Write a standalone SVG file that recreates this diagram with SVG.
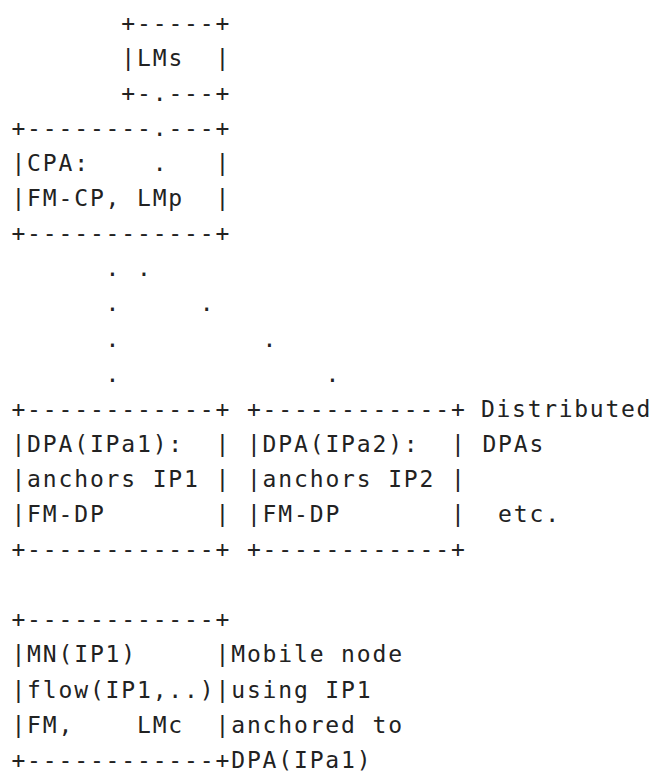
<svg xmlns="http://www.w3.org/2000/svg" width="653" height="776" viewBox="0 0 653 776">
<style>
text{font-family:"DejaVu Sans Mono","Liberation Mono",monospace;font-size:23px;letter-spacing:1.85px;fill:#222;white-space:pre}
</style>
<rect width="653" height="776" fill="#fff"/>
<g id="lms">
<text x="121.3" y="30.6" xml:space="preserve">+-----+</text>
<text x="121.3" y="65.7" xml:space="preserve">|LMs  |</text>
<text x="121.3" y="100.8" xml:space="preserve">+-</text>
<text x="168.4" y="100.8" xml:space="preserve">---+</text>
</g>
<g id="cpa">
<text x="11.4" y="135.9" xml:space="preserve">+--------</text>
<text x="168.4" y="135.9" xml:space="preserve">---+</text>
<text x="11.4" y="171.0" xml:space="preserve">|CPA:</text>
<text x="215.5" y="171.0" xml:space="preserve">|</text>
<text x="11.4" y="206.1" xml:space="preserve">|FM-CP, LMp  |</text>
<text x="11.4" y="241.2" xml:space="preserve">+------------+</text>
</g>
<g id="dpa1">
<text x="11.4" y="416.7" xml:space="preserve">+------------+</text>
<text x="11.4" y="451.8" xml:space="preserve">|DPA(IPa1):  |</text>
<text x="11.4" y="486.9" xml:space="preserve">|anchors IP1 |</text>
<text x="11.4" y="522.0" xml:space="preserve">|FM-DP       |</text>
<text x="11.4" y="557.1" xml:space="preserve">+------------+</text>
</g>
<g id="dpa2">
<text x="246.9" y="416.7" xml:space="preserve">+------------+</text>
<text x="246.9" y="451.8" xml:space="preserve">|DPA(IPa2):  |</text>
<text x="246.9" y="486.9" xml:space="preserve">|anchors IP2 |</text>
<text x="246.9" y="522.0" xml:space="preserve">|FM-DP       |</text>
<text x="246.9" y="557.1" xml:space="preserve">+------------+</text>
</g>
<g id="dpa-label">
<text x="481" y="416.7" style="letter-spacing:1.7px">Distributed</text>
<text x="482.4" y="451.8">DPAs</text>
<text x="498.1" y="522.0">etc.</text>
</g>
<g id="mn">
<text x="11.4" y="627.3" xml:space="preserve">+------------+</text>
<text x="11.4" y="662.4" xml:space="preserve">|MN(IP1)     |</text>
<text x="11.4" y="697.5" xml:space="preserve">|flow(IP1,..)|</text>
<text x="11.4" y="732.6" xml:space="preserve">|FM,    LMc  |</text>
<text x="11.4" y="767.7" xml:space="preserve">+------------+</text>
</g>
<g id="mn-label">
<text x="231.2" y="662.4">Mobile node</text>
<text x="231.2" y="697.5">using IP1</text>
<text x="231.2" y="732.6">anchored to</text>
<text x="231.2" y="767.7">DPA(IPa1)</text>
</g>
<g id="connectors">
<text x="152.7" y="100.8">.</text>
<text x="152.7" y="135.9">.</text>
<text x="152.7" y="171.0">.</text>
<text x="105.6" y="276.3">.</text>
<text x="137.0" y="276.3">.</text>
<text x="105.6" y="311.4">.</text>
<text x="199.8" y="311.4">.</text>
<text x="105.6" y="346.5">.</text>
<text x="262.6" y="346.5">.</text>
<text x="105.6" y="381.6">.</text>
<text x="325.4" y="381.6">.</text>
</g>
</svg>
